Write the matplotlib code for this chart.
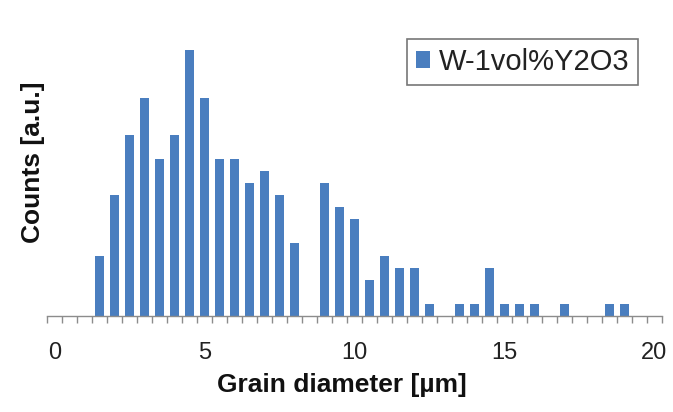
import matplotlib
matplotlib.use("Agg")
import matplotlib.pyplot as plt
from matplotlib.patches import Patch
import numpy as np

plt.rcParams['font.family'] = ['Liberation Sans', 'DejaVu Sans']

# Data
diameters = [1.5, 2.0, 2.5, 3.0, 3.5, 4.0, 4.5, 5.0, 5.5, 6.0, 6.5, 7.0, 7.5, 8.0, 8.5,
             9.0, 9.5, 10.0, 10.5, 11.0, 11.5, 12.0, 12.5, 13.0, 13.5, 14.0, 14.5,
             15.0, 15.5, 16.0, 16.5, 17.0, 17.5, 18.0, 18.5, 19.0]
counts = [5, 10, 15, 18, 13, 15, 22, 18, 13, 13, 11, 12, 10, 6, 0,
          11, 9, 8, 3, 5, 4, 4, 1, 0, 1, 1, 4,
          1, 1, 1, 0, 1, 0, 0, 1, 1]
series_name = "W-1vol%Y2O3"
xtick_labels = [0, 5, 10, 15, 20]

bar_color = "#4A7EBF"

fig = plt.figure(figsize=(6.73, 4.12), dpi=100)
ax = fig.add_axes([0.0694, 0.233, 0.914, 0.704])

ax.bar(diameters, counts, width=0.31, color=bar_color, zorder=2)

ax.set_xlim(-0.25, 20.25)
ax.set_ylim(0, 24)

for s in ['top', 'right', 'left']:
    ax.spines[s].set_visible(False)
ax.spines['bottom'].set_color('#8c8c8c')
ax.spines['bottom'].set_linewidth(1.0)

ax.set_yticks([])
ax.set_xticks(xtick_labels)
ax.set_xticklabels([str(v) for v in xtick_labels])
ax.tick_params(axis='x', which='major', length=0, pad=19, labelsize=17, labelcolor='#222222')
ax.set_xticks(np.arange(-0.25, 20.26, 0.5), minor=True)
ax.tick_params(axis='x', which='minor', length=5, width=1.0, color='#8c8c8c', direction='out')

fig.text(0.508, 0.066, "Grain diameter [µm]", ha='center', va='center',
         fontsize=19, fontweight='bold', color='#111111')
fig.text(0.049, 0.607, "Counts [a.u.]", ha='center', va='center', rotation=90,
         fontsize=19, fontweight='bold', color='#111111')

handle = Patch(facecolor=bar_color, edgecolor='none')
leg = fig.legend([handle], [series_name], loc='upper left',
                 bbox_to_anchor=(407 / 673, 1 - 39 / 412), fontsize=21,
                 frameon=True, fancybox=False, handlelength=0.5, handleheight=0.5,
                 handletextpad=0.3, borderpad=0.3, borderaxespad=0)
leg.get_frame().set_edgecolor('#555555')
leg.get_frame().set_linewidth(1.2)
for t in leg.get_texts():
    t.set_color('#222222')

fig.savefig("out.png", dpi=100)
